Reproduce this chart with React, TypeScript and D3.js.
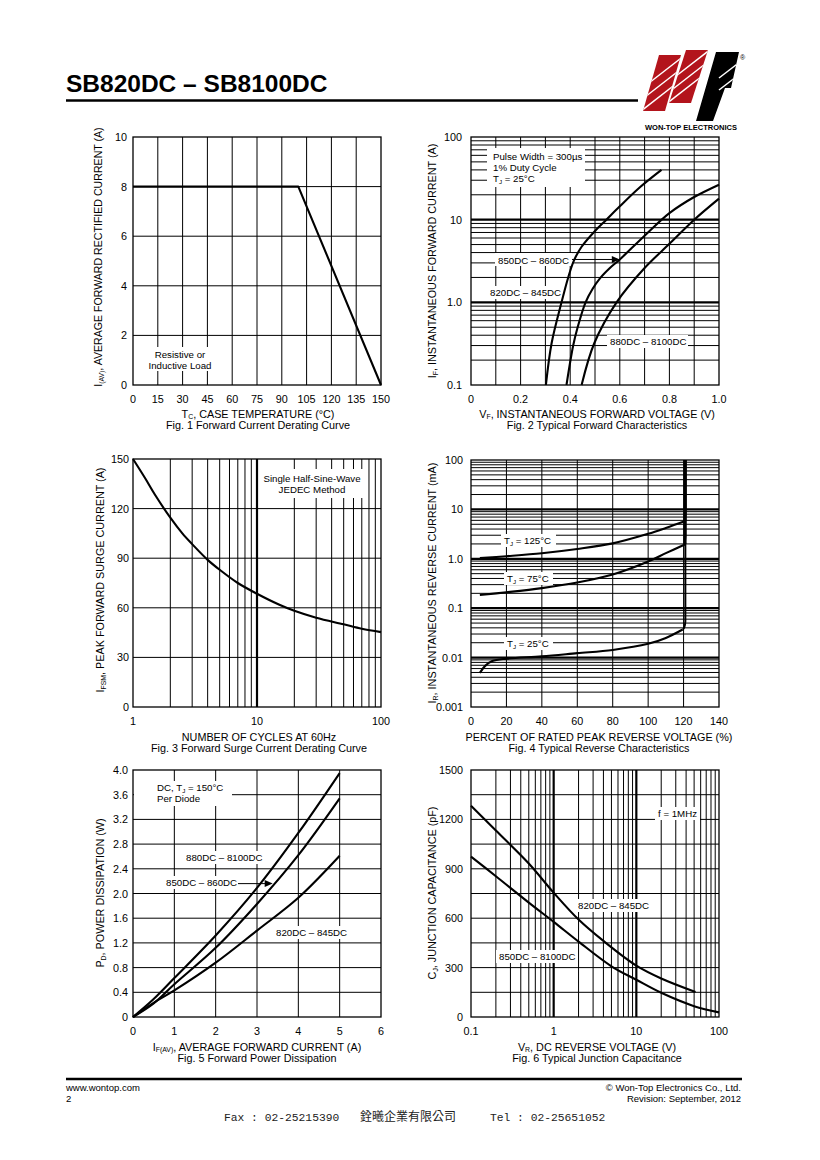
import React from 'react';
import * as d3 from 'd3';

const SANS = "'Liberation Sans', Arial, Helvetica, sans-serif";

// ---------------- Fig. 1 data ----------------
const FIG1_TC = [0, 100, 150];
const FIG1_IAV = [8, 8, 0];
const FIG1_X_TICKS = [0, 15, 30, 45, 60, 75, 90, 105, 120, 135, 150];
const FIG1_Y_TICKS = [0, 2, 4, 6, 8, 10];

// ---------------- Fig. 2 data ----------------
const FIG2_X_TICKS = [0, 0.2, 0.4, 0.6, 0.8, 1.0];
const FIG2_X_LABELS = ['0', '0.2', '0.4', '0.6', '0.8', '1.0'];
const FIG2_X_GRID = [0.1, 0.2, 0.3, 0.4, 0.5, 0.6, 0.7, 0.8, 0.9];
const FIG2_Y_TICKS = [0.1, 1, 10, 100];
const FIG2_Y_LABELS = ['0.1', '1.0', '10', '100'];
const FIG2_VF_820 = [0.302, 0.325, 0.365, 0.392, 0.415, 0.446, 0.5, 0.546, 0.6, 0.68, 0.768];
const FIG2_IF_820 = [0.1, 0.32, 1.0, 2.0, 3.2, 4.7, 7.3, 10, 14.5, 24.5, 40];
const FIG2_VF_850 = [0.385, 0.412, 0.43, 0.462, 0.49, 0.52, 0.56, 0.6, 0.7, 0.8, 0.9, 1.0];
const FIG2_IF_850 = [0.1, 0.3, 0.5, 1.0, 1.45, 1.95, 2.6, 3.3, 6.4, 12, 18.8, 26.5];
const FIG2_VF_880 = [0.446, 0.497, 0.587, 0.7, 0.8, 0.9, 1.0];
const FIG2_IF_880 = [0.1, 0.32, 1.0, 2.6, 5.1, 10, 18];
const FIG2_ARROW_AT = [0.6, 3.3];

// ---------------- Fig. 3 data ----------------
const FIG3_X_TICKS = [1, 10, 100];
const FIG3_Y_TICKS = [0, 30, 60, 90, 120, 150];
const FIG3_CYCLES = [1, 1.25, 1.5, 2, 2.5, 3, 4, 5, 7, 10, 15, 20, 30, 50, 70, 100];
const FIG3_IFSM = [150, 138.5, 128.5, 114.5, 105, 98.5, 89, 83, 75, 68.5, 62, 58.2, 54, 50, 47.3, 45.3];

// ---------------- Fig. 4 data ----------------
const FIG4_X_TICKS = [0, 20, 40, 60, 80, 100, 120, 140];
const FIG4_Y_TICKS = [0.001, 0.01, 0.1, 1, 10, 100];
const FIG4_Y_LABELS = ['0.001', '0.01', '0.1', '1.0', '10', '100'];
const FIG4_PCT_125 = [5, 20, 40, 60, 80, 100, 110, 121];
const FIG4_IR_125 = [1.03, 1.13, 1.3, 1.58, 2.05, 3.2, 4.2, 5.8];
const FIG4_PCT_75 = [5, 20, 40, 60, 80, 100, 110, 121];
const FIG4_IR_75 = [0.185, 0.21, 0.255, 0.33, 0.48, 0.88, 1.3, 1.97];
const FIG4_PCT_25 = [5, 8, 12, 20, 40, 60, 80, 100, 110, 119.5];
const FIG4_IR_25 = [0.0049, 0.0068, 0.0085, 0.0095, 0.0106, 0.0123, 0.0143, 0.019, 0.025, 0.037];
const FIG4_BREAKDOWN_PCT = 121;
const FIG4_BREAKDOWN_TOP = 100;

// ---------------- Fig. 5 data ----------------
const FIG5_X_TICKS = [0, 1, 2, 3, 4, 5, 6];
const FIG5_Y_TICKS = [0, 0.4, 0.8, 1.2, 1.6, 2.0, 2.4, 2.8, 3.2, 3.6, 4.0];
const FIG5_IF = [0, 0.5, 1, 2, 3, 4, 5];
const FIG5_PD_880 = [0, 0.29, 0.63, 1.32, 2.09, 2.98, 3.95];
const FIG5_PD_850 = [0, 0.22, 0.53, 1.12, 1.83, 2.62, 3.54];
const FIG5_PD_820 = [0, 0.23, 0.43, 0.88, 1.40, 1.93, 2.61];
const FIG5_ARROW_AT = [3.38, 2.16];

// ---------------- Fig. 6 data ----------------
const FIG6_X_TICKS = [0.1, 1, 10, 100];
const FIG6_X_LABELS = ['0.1', '1', '10', '100'];
const FIG6_Y_TICKS = [0, 300, 600, 900, 1200, 1500];
const FIG6_Y_GRID = [150, 300, 450, 600, 750, 900, 1050, 1200, 1350];
const FIG6_VR_820 = [0.1, 0.2, 0.5, 1, 2, 4, 10, 20, 52];
const FIG6_CJ_820 = [1283, 1132, 932, 755, 592, 462, 312, 234, 152];
const FIG6_VR_850 = [0.1, 0.2, 0.5, 1, 2, 5, 10, 20, 50, 100];
const FIG6_CJ_850 = [974, 855, 695, 578, 458, 308, 226, 147, 66, 28];

// ---------------- helpers ----------------
type Sc = (v: number) => number;

function logGrid(lo: number, hi: number) {
  const out: { v: number; major: boolean }[] = [];
  const e0 = Math.round(Math.log10(lo));
  const e1 = Math.round(Math.log10(hi));
  for (let e = e0; e < e1; e++) {
    for (let k = 1; k <= 9; k++) {
      const v = k * Math.pow(10, e);
      if (v > lo * 1.0001 && v < hi * 0.9999) out.push({ v, major: k === 1 });
    }
  }
  return out;
}

const SMOOTH = d3.curveCatmullRom.alpha(0.5);

function pathOf(xs: number[], ys: number[], sx: Sc, sy: Sc, curve: any = SMOOTH) {
  const idx = xs.map((_, i) => i);
  return (
    d3
      .line<number>()
      .x((i) => sx(xs[i]))
      .y((i) => sy(ys[i]))
      .curve(curve)(idx) || ''
  );
}

function VLines({ vals, sx, y0, y1 }: { vals: { v: number; major?: boolean }[]; sx: Sc; y0: number; y1: number }) {
  return (
    <g>
      {vals.map((d, i) => (
        <line key={i} x1={sx(d.v)} x2={sx(d.v)} y1={y0} y2={y1} stroke="#000" strokeWidth={d.major ? 2.2 : 1} />
      ))}
    </g>
  );
}
function HLines({ vals, sy, x0, x1 }: { vals: { v: number; major?: boolean }[]; sy: Sc; x0: number; x1: number }) {
  return (
    <g>
      {vals.map((d, i) => (
        <line key={i} x1={x0} x2={x1} y1={sy(d.v)} y2={sy(d.v)} stroke="#000" strokeWidth={d.major ? 2.2 : 1} />
      ))}
    </g>
  );
}

function YTicks({ vals, labels, sy, x }: { vals: number[]; labels: string[]; sy: Sc; x: number }) {
  return (
    <g fontSize={10.8} textAnchor="end">
      {vals.map((v, i) => (
        <text key={i} x={x} y={sy(v) + 4}>
          {labels[i]}
        </text>
      ))}
    </g>
  );
}
function XTicks({ vals, labels, sx, y }: { vals: number[]; labels: string[]; sx: Sc; y: number }) {
  return (
    <g fontSize={10.8} textAnchor="middle">
      {vals.map((v, i) => (
        <text key={i} x={sx(v)} y={y}>
          {labels[i]}
        </text>
      ))}
    </g>
  );
}

function SubLabel({ main, sub, rest, fs = 10.8 }: { main: string; sub: string; rest: string; fs?: number }) {
  return (
    <>
      <tspan>{main}</tspan>
      <tspan fontSize={fs * 0.64} dy={1.6}>
        {sub}
      </tspan>
      <tspan dy={-1.6}>{rest}</tspan>
    </>
  );
}

function Box({ x, y, w, h }: { x: number; y: number; w: number; h: number }) {
  return <rect x={x} y={y} width={w} height={h} fill="#fff" />;
}

function Arrow({ x0, tx, ty }: { x0: number; tx: number; ty: number }) {
  return (
    <g>
      <line x1={x0} x2={tx - 5} y1={ty} y2={ty} stroke="#000" strokeWidth={1} />
      <polygon points={`${tx},${ty} ${tx - 8},${ty - 3.5} ${tx - 8},${ty + 3.5}`} fill="#000" />
    </g>
  );
}

const fmt = (v: number) => String(v);

export default function App() {
  const LX = [133, 381];
  const RX = [471, 719];
  const R1 = [385, 137];
  const R2 = [707, 459];
  const R3 = [1017, 770];

  const f1x = d3.scaleLinear().domain([0, 150]).range(LX);
  const f1y = d3.scaleLinear().domain([0, 10]).range(R1);
  const f2x = d3.scaleLinear().domain([0, 1]).range(RX);
  const f2y = d3.scaleLog().domain([0.1, 100]).range(R1);
  const f3x = d3.scaleLog().domain([1, 100]).range(LX);
  const f3y = d3.scaleLinear().domain([0, 150]).range(R2);
  const f4x = d3.scaleLinear().domain([0, 140]).range(RX);
  const f4y = d3.scaleLog().domain([0.001, 100]).range([707, 460]);
  const f5x = d3.scaleLinear().domain([0, 6]).range(LX);
  const f5y = d3.scaleLinear().domain([0, 4]).range(R3);
  const f6x = d3.scaleLog().domain([0.1, 100]).range(RX);
  const f6y = d3.scaleLinear().domain([0, 1500]).range(R3);

  const curve = { fill: 'none', stroke: '#000', strokeWidth: 2.1, strokeLinejoin: 'round' as const };
  const frame = (x0: number, x1: number, y0: number, y1: number) => (
    <rect x={x0} y={y0} width={x1 - x0} height={y1 - y0} fill="none" stroke="#000" strokeWidth={1.3} />
  );
  const inner = (arr: number[]) => arr.slice(1, -1).map((v) => ({ v }));
  const lab = 9.7;

  const bd = (xs: number[], ys: number[]) => {
    const lx = f4x(xs[xs.length - 1]);
    const ly = f4y(ys[ys.length - 1]);
    const bx = f4x(FIG4_BREAKDOWN_PCT);
    return `M${lx},${ly}Q${bx - 0.5},${ly - 1} ${bx},${ly - 8}L${bx},${f4y(FIG4_BREAKDOWN_TOP)}`;
  };

  return (
    <svg
      width={820}
      height={1160}
      style={{ position: 'absolute', left: 0, top: 0, background: '#fff' }}
      fontFamily={SANS}
      fill="#000"
    >
      <rect width={820} height={1160} fill="#fff" />

      {/* ---------- Header ---------- */}
      <text x={66} y={92} fontSize={24.5} fontWeight="bold">
        SB820DC – SB8100DC
      </text>
      <line x1={66} x2={638} y1={100.5} y2={100.5} stroke="#000" strokeWidth={2.7} />
      {/* logo */}
      <defs>
        <clipPath id="lg1">
          <polygon points="643,111 665,111 681,55 659,55" />
        </clipPath>
        <clipPath id="lg2">
          <polygon points="669,103 691,103 708,50 686,50" />
        </clipPath>
        <clipPath id="lg3">
          <polygon points="696,121 713,121 725,88 731,88 739,52 716,52" />
        </clipPath>
      </defs>
      <g clipPath="url(#lg1)">
        <rect x={638} y={50} width={48} height={65} fill="#b3141c" />
        {[98, 84, 70].map((yc, i) => {
          const xc = 654 + ((111 - yc) * 16) / 56;
          return <line key={i} x1={xc - 18} y1={yc + 14} x2={xc + 18} y2={yc - 14} stroke="#fff" strokeWidth={1.5} />;
        })}
      </g>
      <g clipPath="url(#lg2)">
        <rect x={664} y={45} width={48} height={62} fill="#b3141c" />
        {[90, 77, 63].map((yc, i) => {
          const xc = 680 + ((103 - yc) * 17) / 53;
          return <line key={i} x1={xc - 18} y1={yc + 14} x2={xc + 18} y2={yc - 14} stroke="#fff" strokeWidth={1.5} />;
        })}
      </g>
      <g clipPath="url(#lg3)">
        <rect x={690} y={45} width={52} height={80} fill="#000" />
        {[68, 80].map((yc, i) => (
          <line key={i} x1={719} y1={yc + 10} x2={745} y2={yc - 10} stroke="#fff" strokeWidth={1.5} />
        ))}
      </g>
      <text x={740} y={60} fontSize={7}>
        ®
      </text>
      <text x={645} y={130} fontSize={7.4} fontWeight="bold" textLength={92} lengthAdjust="spacingAndGlyphs">
        WON-TOP ELECTRONICS
      </text>

      {/* ---------- Fig 1 ---------- */}
      <g>
        <VLines vals={inner(FIG1_X_TICKS)} sx={f1x} y0={R1[0]} y1={R1[1]} />
        <HLines vals={inner(FIG1_Y_TICKS)} sy={f1y} x0={LX[0]} x1={LX[1]} />
        <Box x={148} y={347} w={64} h={24} />
        <g fontSize={lab} textAnchor="middle">
          <text x={180} y={358}>Resistive or</text>
          <text x={180} y={369}>Inductive Load</text>
        </g>
        {frame(LX[0], LX[1], R1[1], R1[0])}
        <path d={pathOf(FIG1_TC, FIG1_IAV, f1x, f1y, d3.curveLinear)} {...curve} />
        <YTicks vals={FIG1_Y_TICKS} labels={FIG1_Y_TICKS.map(fmt)} sy={f1y} x={127} />
        <XTicks vals={FIG1_X_TICKS} labels={FIG1_X_TICKS.map(fmt)} sx={f1x} y={403} />
        <text x={258} y={417.5} fontSize={10.8} textAnchor="middle">
          <SubLabel main="T" sub="C" rest=", CASE TEMPERATURE (°C)" />
        </text>
        <text x={258} y={429} fontSize={10.8} textAnchor="middle">
          Fig. 1 Forward Current Derating Curve
        </text>
        <text transform="translate(102,257) rotate(-90)" fontSize={10.6} textAnchor="middle">
          <SubLabel main="I" sub="(AV)" rest=", AVERAGE FORWARD RECTIFIED CURRENT (A)" fs={10.6} />
        </text>
      </g>

      {/* ---------- Fig 2 ---------- */}
      <g>
        <VLines vals={FIG2_X_GRID.map((v) => ({ v }))} sx={f2x} y0={R1[0]} y1={R1[1]} />
        <HLines vals={logGrid(0.1, 100)} sy={f2y} x0={RX[0]} x1={RX[1]} />
        <Box x={487} y={148} w={98} h={39} />
        <g fontSize={lab}>
          <text x={493} y={160}>Pulse Width = 300µs</text>
          <text x={493} y={171}>1% Duty Cycle</text>
          <text x={493} y={182}>
            <SubLabel main="T" sub="J" rest=" = 25°C" fs={lab} />
          </text>
        </g>
        <Box x={495} y={253} w={77} h={13} />
        <Box x={487} y={286} w={77} h={13} />
        <Box x={607} y={335} w={81} h={13} />
        <g fontSize={lab}>
          <text x={498} y={263.5}>850DC – 860DC</text>
          <text x={490} y={296}>820DC – 845DC</text>
          <text x={610} y={345}>880DC – 8100DC</text>
        </g>
        {frame(RX[0], RX[1], R1[1], R1[0])}
        <path d={pathOf(FIG2_VF_820, FIG2_IF_820, f2x, f2y)} {...curve} />
        <path d={pathOf(FIG2_VF_850, FIG2_IF_850, f2x, f2y)} {...curve} />
        <path d={pathOf(FIG2_VF_880, FIG2_IF_880, f2x, f2y)} {...curve} />
        <Arrow x0={572} tx={f2x(FIG2_ARROW_AT[0])} ty={f2y(FIG2_ARROW_AT[1])} />
        <YTicks vals={FIG2_Y_TICKS} labels={FIG2_Y_LABELS} sy={f2y} x={462} />
        <XTicks vals={FIG2_X_TICKS} labels={FIG2_X_LABELS} sx={f2x} y={403} />
        <text x={597} y={417.5} fontSize={10.8} textAnchor="middle">
          <SubLabel main="V" sub="F" rest=", INSTANTANEOUS FORWARD VOLTAGE (V)" />
        </text>
        <text x={597} y={429} fontSize={10.8} textAnchor="middle">
          Fig. 2 Typical Forward Characteristics
        </text>
        <text transform="translate(436,261) rotate(-90)" fontSize={10.8} textAnchor="middle">
          <SubLabel main="I" sub="F" rest=", INSTANTANEOUS FORWARD CURRENT (A)" />
        </text>
      </g>

      {/* ---------- Fig 3 ---------- */}
      <g>
        <VLines vals={logGrid(1, 100)} sx={f3x} y0={R2[0]} y1={R2[1]} />
        <HLines vals={inner(FIG3_Y_TICKS)} sy={f3y} x0={LX[0]} x1={LX[1]} />
        <Box x={260} y={469} w={103} h={29} />
        <g fontSize={lab} textAnchor="middle">
          <text x={312} y={482}>Single Half-Sine-Wave</text>
          <text x={312} y={493}>JEDEC Method</text>
        </g>
        {frame(LX[0], LX[1], R2[1], R2[0])}
        <path d={pathOf(FIG3_CYCLES, FIG3_IFSM, f3x, f3y)} {...curve} />
        <YTicks vals={FIG3_Y_TICKS} labels={FIG3_Y_TICKS.map(fmt)} sy={f3y} x={129} />
        <XTicks vals={FIG3_X_TICKS} labels={FIG3_X_TICKS.map(fmt)} sx={f3x} y={725} />
        <text x={259} y={741} fontSize={10.8} textAnchor="middle">
          NUMBER OF CYCLES AT 60Hz
        </text>
        <text x={259} y={752} fontSize={10.8} textAnchor="middle">
          Fig. 3 Forward Surge Current Derating Curve
        </text>
        <text transform="translate(104,580) rotate(-90)" fontSize={10.8} textAnchor="middle">
          <SubLabel main="I" sub="FSM" rest=", PEAK FORWARD SURGE CURRENT (A)" />
        </text>
      </g>

      {/* ---------- Fig 4 ---------- */}
      <g>
        <VLines vals={inner(FIG4_X_TICKS)} sx={f4x} y0={707} y1={460} />
        <HLines vals={logGrid(0.001, 100)} sy={f4y} x0={RX[0]} x1={RX[1]} />
        <Box x={501} y={534} w={55} h={13} />
        <Box x={504} y={572} w={49} h={13} />
        <Box x={504} y={637} w={49} h={13} />
        <g fontSize={lab}>
          <text x={504} y={544}>
            <SubLabel main="T" sub="J" rest=" = 125°C" fs={lab} />
          </text>
          <text x={507} y={582}>
            <SubLabel main="T" sub="J" rest=" = 75°C" fs={lab} />
          </text>
          <text x={507} y={647}>
            <SubLabel main="T" sub="J" rest=" = 25°C" fs={lab} />
          </text>
        </g>
        {frame(RX[0], RX[1], 460, 707)}
        <path d={pathOf(FIG4_PCT_125, FIG4_IR_125, f4x, f4y)} {...curve} />
        <path d={pathOf(FIG4_PCT_75, FIG4_IR_75, f4x, f4y)} {...curve} />
        <path d={pathOf(FIG4_PCT_25, FIG4_IR_25, f4x, f4y)} {...curve} />
        <path d={bd(FIG4_PCT_125, FIG4_IR_125)} {...curve} strokeWidth={2.6} />
        <path d={bd(FIG4_PCT_75, FIG4_IR_75)} {...curve} strokeWidth={2.6} />
        <path d={bd(FIG4_PCT_25, FIG4_IR_25)} {...curve} strokeWidth={2} />
        <YTicks vals={FIG4_Y_TICKS} labels={FIG4_Y_LABELS} sy={f4y} x={463} />
        <XTicks vals={FIG4_X_TICKS} labels={FIG4_X_TICKS.map(fmt)} sx={f4x} y={725} />
        <text x={599} y={741} fontSize={10.8} textAnchor="middle">
          PERCENT OF RATED PEAK REVERSE VOLTAGE (%)
        </text>
        <text x={599} y={752} fontSize={10.8} textAnchor="middle">
          Fig. 4 Typical Reverse Characteristics
        </text>
        <text transform="translate(436,583) rotate(-90)" fontSize={10.8} textAnchor="middle">
          <SubLabel main="I" sub="R" rest=", INSTANTANEOUS REVERSE CURRENT (mA)" />
        </text>
      </g>

      {/* ---------- Fig 5 ---------- */}
      <g>
        <VLines vals={inner(FIG5_X_TICKS)} sx={f5x} y0={R3[0]} y1={R3[1]} />
        <HLines vals={inner(FIG5_Y_TICKS)} sy={f5y} x0={LX[0]} x1={LX[1]} />
        <Box x={134} y={781} w={98} h={25} />
        <Box x={183} y={851} w={80} h={13} />
        <Box x={163} y={876} w={75} h={13} />
        <Box x={273} y={926} w={76} h={13} />
        <g fontSize={lab}>
          <text x={157} y={791}>
            <SubLabel main="DC, T" sub="J" rest=" = 150°C" fs={lab} />
          </text>
          <text x={157} y={802}>Per Diode</text>
          <text x={186} y={861}>880DC – 8100DC</text>
          <text x={166} y={886}>850DC – 860DC</text>
          <text x={276} y={936}>820DC – 845DC</text>
        </g>
        {frame(LX[0], LX[1], R3[1], R3[0])}
        <path d={pathOf(FIG5_IF, FIG5_PD_880, f5x, f5y)} {...curve} />
        <path d={pathOf(FIG5_IF, FIG5_PD_850, f5x, f5y)} {...curve} />
        <path d={pathOf(FIG5_IF, FIG5_PD_820, f5x, f5y)} {...curve} />
        <Arrow x0={238} tx={f5x(FIG5_ARROW_AT[0])} ty={f5y(FIG5_ARROW_AT[1])} />
        <YTicks vals={FIG5_Y_TICKS} labels={FIG5_Y_TICKS.map((v) => (v === 0 ? '0' : v.toFixed(1)))} sy={f5y} x={128} />
        <XTicks vals={FIG5_X_TICKS} labels={FIG5_X_TICKS.map(fmt)} sx={f5x} y={1035} />
        <text x={257} y={1050.5} fontSize={10.8} textAnchor="middle">
          <SubLabel main="I" sub="F(AV)" rest=", AVERAGE FORWARD CURRENT (A)" />
        </text>
        <text x={257} y={1062} fontSize={10.8} textAnchor="middle">
          Fig. 5 Forward Power Dissipation
        </text>
        <text transform="translate(104,893) rotate(-90)" fontSize={10.8} textAnchor="middle">
          <SubLabel main="P" sub="D" rest=", POWER DISSIPATION (W)" />
        </text>
      </g>

      {/* ---------- Fig 6 ---------- */}
      <g>
        <VLines vals={logGrid(0.1, 100)} sx={f6x} y0={R3[0]} y1={R3[1]} />
        <HLines vals={FIG6_Y_GRID.map((v) => ({ v }))} sy={f6y} x0={RX[0]} x1={RX[1]} />
        <Box x={655} y={807} w={45} h={13} />
        <Box x={575} y={899} w={77} h={13} />
        <Box x={496} y={950} w={82} h={13} />
        <g fontSize={lab}>
          <text x={658} y={817}>f = 1MHz</text>
          <text x={578} y={909}>820DC – 845DC</text>
          <text x={499} y={960}>850DC – 8100DC</text>
        </g>
        {frame(RX[0], RX[1], R3[1], R3[0])}
        <path d={pathOf(FIG6_VR_820, FIG6_CJ_820, f6x, f6y)} {...curve} />
        <path d={pathOf(FIG6_VR_850, FIG6_CJ_850, f6x, f6y)} {...curve} />
        <YTicks vals={FIG6_Y_TICKS} labels={FIG6_Y_TICKS.map(fmt)} sy={f6y} x={463} />
        <XTicks vals={FIG6_X_TICKS} labels={FIG6_X_LABELS} sx={f6x} y={1035} />
        <text x={597} y={1050.5} fontSize={10.8} textAnchor="middle">
          <SubLabel main="V" sub="R" rest=", DC REVERSE VOLTAGE (V)" />
        </text>
        <text x={597} y={1062} fontSize={10.8} textAnchor="middle">
          Fig. 6 Typical Junction Capacitance
        </text>
        <text transform="translate(436,893) rotate(-90)" fontSize={10.8} textAnchor="middle">
          <SubLabel main="C" sub="J" rest=", JUNCTION CAPACITANCE (pF)" />
        </text>
      </g>

      {/* ---------- Footer ---------- */}
      <line x1={66} x2={742} y1={1079} y2={1079} stroke="#000" strokeWidth={2.5} />
      <g fontSize={9.5}>
        <text x={66} y={1091}>www.wontop.com</text>
        <text x={66} y={1102}>2</text>
        <text x={741} y={1091} textAnchor="end">
          © Won-Top Electronics Co., Ltd.
        </text>
        <text x={741} y={1102} textAnchor="end">
          Revision: September, 2012
        </text>
      </g>
      <g fill="#222">
        <text x={224} y={1121} fontSize={11.3} fontFamily="'Liberation Mono', 'DejaVu Sans Mono', monospace">
          Fax : 02-25215390
        </text>
        <text x={360} y={1121} fontSize={12} fontFamily="'Noto Sans CJK TC', 'Noto Sans CJK SC', sans-serif">
          銓曦企業有限公司
        </text>
        <text x={490} y={1121} fontSize={11.3} fontFamily="'Liberation Mono', 'DejaVu Sans Mono', monospace">
          Tel : 02-25651052
        </text>
      </g>
    </svg>
  );
}
